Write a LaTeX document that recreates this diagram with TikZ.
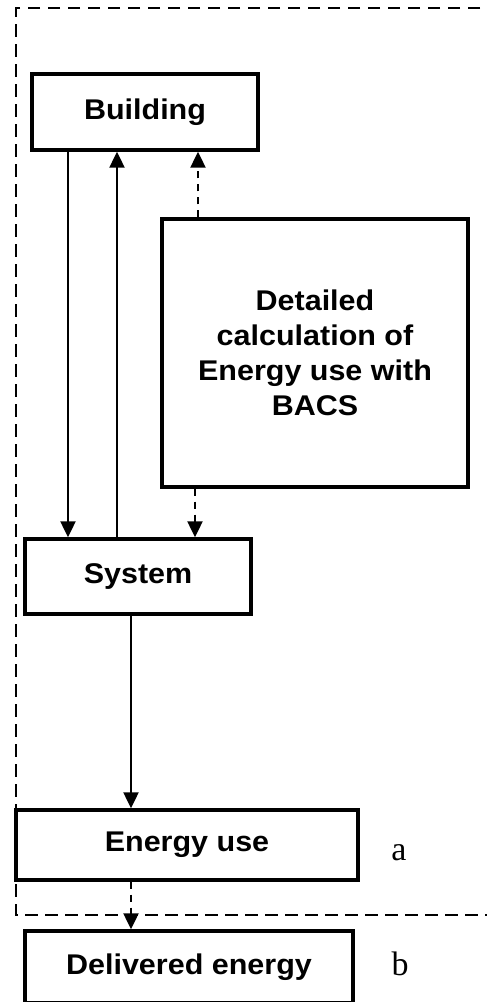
\documentclass[tikz,border=0pt]{standalone}
\usepackage{fontspec}
\newfontfamily\boxfont{Liberation Sans}[FakeStretch=1.07]
\newfontfamily\tagfont{Liberation Serif}
\usetikzlibrary{arrows.meta}

\tikzset{
  blockbox/.style={draw, line width=3.4pt, inner sep=0pt, align=center,
    font=\boxfont\bfseries\fontsize{28.5}{35}\selectfont},
  flow/.style={line width=2.2pt, -{Triangle[length=16pt,width=15pt]}},
  dashflow/.style={flow, dash pattern=on 7pt off 6pt},
  frameline/.style={line width=2.8pt, dash pattern=on 12.5pt off 7.5pt},
  tag/.style={font=\tagfont\fontsize{34}{36}\selectfont, anchor=base}
}

\begin{document}
\begin{tikzpicture}[x=1pt, y=-1pt]
  \useasboundingbox (0,0) rectangle (487,1002);
  \clip (0,0) rectangle (487,1002);

  % boxes
  \node[blockbox, minimum width=226pt, minimum height=76pt] (building) at (145,112) {Building};
  \node[blockbox, minimum width=306pt, minimum height=268pt] (calc) at (315,353)
    {Detailed\\calculation of\\Energy use with\\BACS};
  \node[blockbox, minimum width=226pt, minimum height=75pt] (system) at (138,576.5) {System};
  \node[blockbox, minimum width=342pt, minimum height=70pt] (use) at (187,845) {Energy use};
  \node[blockbox, minimum width=328pt, minimum height=72pt] (delivered) at (189,967) {Delivered energy};

  % side labels
  \node[tag] (la) at (399,860) {a};
  \node[tag] (lb) at (400,975) {b};

  % boundary of the calculation scope
  \coordinate (fa) at (16,8);
  \coordinate (fb) at (16,915);
  \coordinate (fc) at (500,915);
  \coordinate (fd) at (500,8);
  \draw[frameline] (fd) -- (fa) -- (fb) -- (fc);

  % connector columns
  \coordinate (xa) at (68,0);
  \coordinate (xb) at (117,0);
  \coordinate (xc) at (198,0);
  \coordinate (xd) at (195,0);
  \coordinate (xe) at (131,0);

  \draw[flow] (building.south -| xa) -- (system.north -| xa);
  \draw[flow] (system.north -| xb) -- (building.south -| xb);
  \draw[dashflow] (calc.north -| xc) -- (building.south -| xc);
  \draw[dashflow] (calc.south -| xd) -- (system.north -| xd);
  \draw[flow] (system.south -| xe) -- (use.north -| xe);
  \draw[dashflow] (use.south -| xe) -- (delivered.north -| xe);
\end{tikzpicture}
\end{document}
